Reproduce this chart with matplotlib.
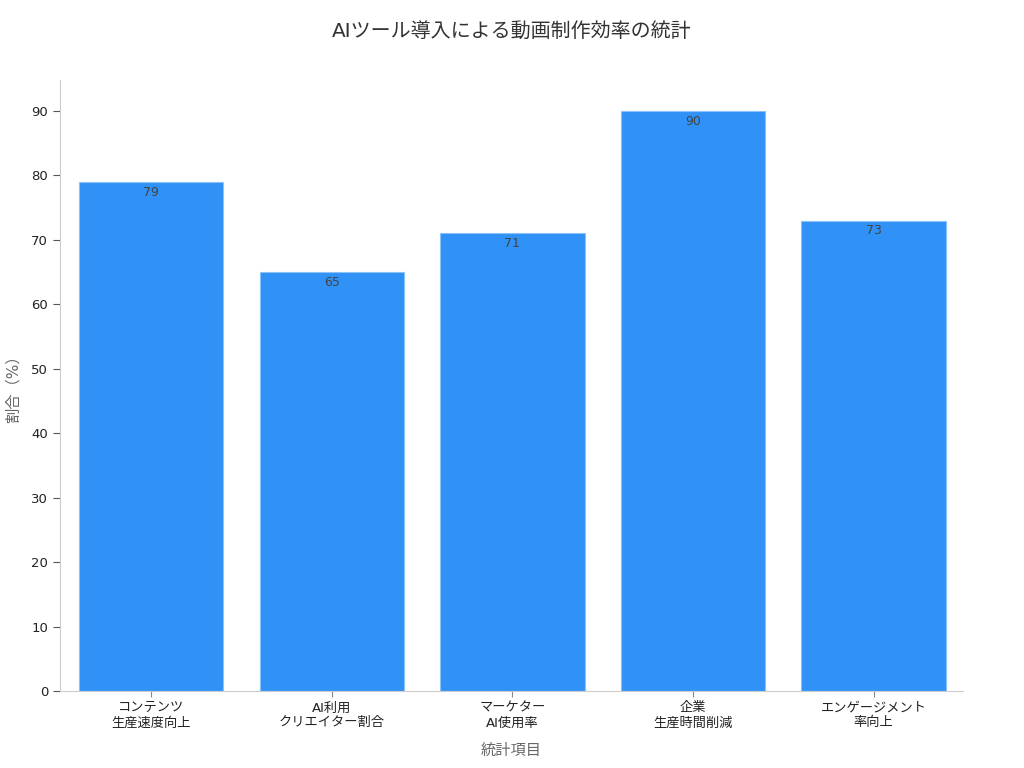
import matplotlib
matplotlib.use("Agg")
import matplotlib.pyplot as plt

plt.rcParams['font.family'] = ['DejaVu Sans', 'Noto Sans CJK JP']

categories = ["コンテンツ\n生産速度向上", "AI利用\nクリエイター割合", "マーケター\nAI使用率",
              "企業\n生産時間削減", "エンゲージメント\n率向上"]
values = [79, 65, 71, 90, 73]
yticks = [0, 10, 20, 30, 40, 50, 60, 70, 80, 90]

fig = plt.figure(figsize=(10.24, 7.68), dpi=100)
ax = fig.add_axes([0.0586, 0.1003, 0.8818, 0.7955])

x = range(len(categories))
bars = ax.bar(x, values, width=0.8, color="#3091f6", edgecolor="#8cc2fa", linewidth=0.8)

for xi, v in zip(x, values):
    ax.text(xi, v - 0.6, str(v), ha="center", va="top", fontsize=9, color="#444444")

ax.set_xlim(-0.505, 4.495)
ax.set_ylim(0, 94.8)
ax.set_yticks(yticks)
ax.set_xticks(list(x))
ax.set_xticklabels(categories, fontsize=9.5, color="#222222")
ax.tick_params(axis="y", labelsize=9.5, labelcolor="#222222", color="#555555", length=5)
ax.tick_params(axis="x", color="#888888", length=4)

for s in ["top", "right"]:
    ax.spines[s].set_visible(False)
for s in ["left", "bottom"]:
    ax.spines[s].set_color("#cccccc")

ax.set_ylabel("割合（%）", fontsize=11, color="#666666", labelpad=8)
ax.set_xlabel("統計項目", fontsize=11, color="#666666", labelpad=10)
fig.suptitle("AIツール導入による動画制作効率の統計", fontsize=14.4, color="#333333", y=0.97)

plt.savefig("out.png", dpi=100)
